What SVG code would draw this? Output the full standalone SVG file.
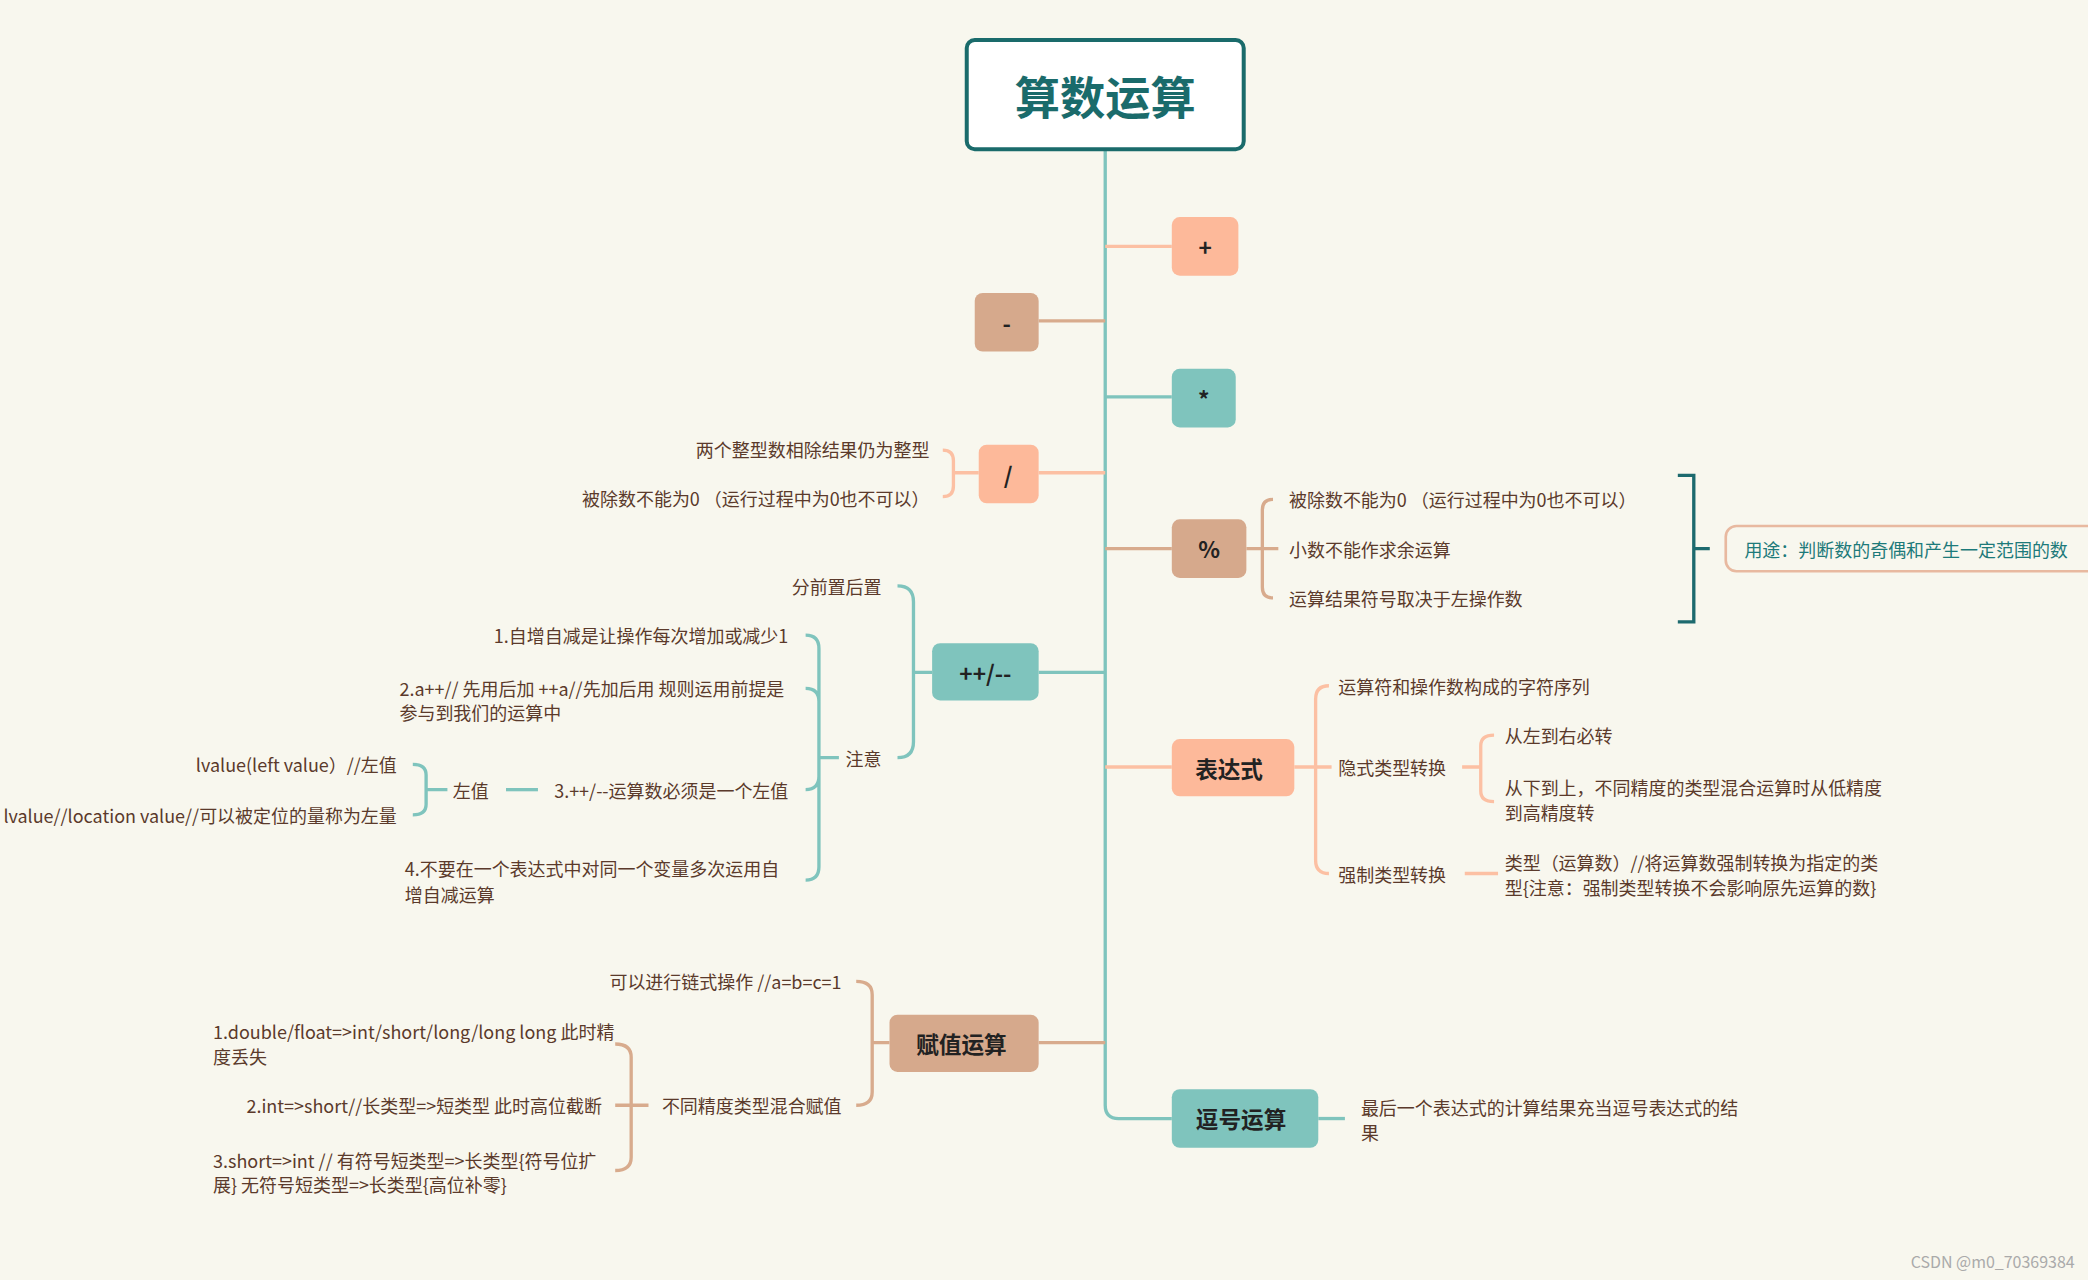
<svg xmlns="http://www.w3.org/2000/svg" width="2088" height="1280" viewBox="0 0 2088 1280">
<style>
text{font-family:"Noto Sans CJK SC","Noto Sans",sans-serif;dominant-baseline:central}
.t{font-size:13.5px;fill:#5b3a2b}
.n{font-size:17px;font-weight:bold;fill:#222;text-anchor:middle}
.r{text-anchor:end}
.lt{fill:none;stroke:#7fc4bd;stroke-width:2.5}
.lp{fill:none;stroke:#fcc0a3;stroke-width:2.5}
.lb{fill:none;stroke:#d8ab8d;stroke-width:2.5}
.teal{fill:#7fc4bd}.sal{fill:#fdb99a}.tan{fill:#d6a98c}
</style>
<rect width="2088" height="1280" fill="#f8f7ee"/>
<g transform="scale(1.3316)">
<g id="connectors">
<path class="lt" d="M830 112 V830 Q830 840 840 840 H880"/>
<path class="lp" d="M830 185 H880"/>
<path class="lb" d="M780 241 H830"/>
<path class="lt" d="M830 298 H880"/>
<path class="lp" d="M780 355 H830"/>
<path class="lb" d="M830 412 H880"/>
<path class="lt" d="M780 505 H830"/>
<path class="lp" d="M830 576 H880"/>
<path class="lb" d="M780 783 H830"/>
<path class="lp" d="M735 355 H716 M708 338 Q716 338 716 346 V365 Q716 373 708 373"/>
<path class="lb" d="M936 412 H948 M956 375 Q948 375 948 383 V441 Q948 449 956 449 M948 412 H960"/>
<path fill="none" stroke="#1d6a6e" stroke-width="2.5" d="M1260 357 H1272 V467 H1260 M1272 412 H1284"/>
<path class="lt" d="M700 505 H686 M674 440 Q686 440 686 452 V557 Q686 569 674 569"/>
<path class="lt" d="M630 569 H615 M605 477 Q615 477 615 487 V651 Q615 661 605 661 M605 517 Q615 517 615 527 M605 593 Q615 593 615 583"/>
<path class="lt" d="M380 593 H404"/>
<path class="lt" d="M336 593 H320 M310 574 Q320 574 320 582 V604 Q320 612 310 612"/>
<path class="lp" d="M972 576 H1000 M998 515 Q988 515 988 525 V646 Q988 656 998 656"/>
<path class="lp" d="M1098 576 H1112 M1122 552 Q1112 552 1112 560 V594 Q1112 602 1122 602"/>
<path class="lp" d="M1100 656 H1125"/>
<path class="lb" d="M668 783 H655 M643 737 Q655 737 655 747 V820 Q655 830 643 830"/>
<path class="lb" d="M487 830 H474 M462 784 Q474 784 474 794 V869 Q474 879 462 879 M462 830 H474"/>
<path class="lt" d="M990 840 H1010"/>
</g>
<g id="title"><rect x="726" y="30" width="208" height="82" rx="6" fill="#fff" stroke="#1a6b6b" stroke-width="3"/><text x="830" y="71" style="font-size:34px;font-weight:bold;fill:#1a6b6b;text-anchor:middle">算数运算</text></g>
<g id="plus"><rect class="sal" x="880" y="163" width="50" height="44" rx="6"/><text class="n" x="905" y="185">+</text></g>
<g id="minus"><rect class="tan" x="732" y="220" width="48" height="44" rx="6"/><text class="n" x="756" y="242">-</text></g>
<g id="mul"><rect class="teal" x="880" y="277" width="48" height="44" rx="6"/><text class="n" x="904" y="299">*</text></g>
<g id="div"><rect class="sal" x="735" y="334" width="45" height="44" rx="6"/><text class="n" x="757" y="356">/</text>
<text class="t r" x="698" y="337">两个整型数相除结果仍为整型</text>
<text class="t r" x="698" y="374">被除数不能为0 （运行过程中为0也不可以）</text></g>
<g id="mod"><rect class="tan" x="880" y="390" width="56" height="44" rx="6"/><text class="n" x="908" y="412">%</text>
<text class="t" x="968" y="375">被除数不能为0 （运行过程中为0也不可以）</text>
<text class="t" x="968" y="412">小数不能作求余运算</text>
<text class="t" x="968" y="449">运算结果符号取决于左操作数</text></g>
<g id="use"><rect x="1296" y="395" width="290" height="34" rx="8" fill="none" stroke="#e8b9a0" stroke-width="2"/><text class="t" x="1310" y="412" style="fill:#1d7a7a">用途：判断数的奇偶和产生一定范围的数</text></g>
<g id="incdec"><rect class="teal" x="700" y="483" width="80" height="43" rx="6"/><text class="n" x="740" y="505">++/--</text>
<text class="t r" x="662" y="440">分前置后置</text>
<text class="t r" x="662" y="569">注意</text>
<text class="t r" x="592" y="477">1.自增自减是让操作每次增加或减少1</text>
<text class="t" x="300" y="517">2.a++// 先用后加 ++a//先加后用 规则运用前提是</text>
<text class="t" x="300" y="535">参与到我们的运算中</text>
<text class="t r" x="592" y="593">3.++/--运算数必须是一个左值</text>
<text class="t" x="340" y="593">左值</text>
<text class="t r" x="298" y="574">lvalue(left value）//左值</text>
<text class="t r" x="298" y="612">lvalue//location value//可以被定位的量称为左量</text>
<text class="t" x="304" y="652">4.不要在一个表达式中对同一个变量多次运用自</text>
<text class="t" x="304" y="671">增自减运算</text></g>
<g id="expr"><rect class="sal" x="880" y="555" width="92" height="43" rx="6"/><text class="n" x="923" y="577">表达式</text>
<text class="t" x="1005" y="515">运算符和操作数构成的字符序列</text>
<text class="t" x="1005" y="576">隐式类型转换</text>
<text class="t" x="1005" y="656">强制类型转换</text>
<text class="t" x="1130" y="552">从左到右必转</text>
<text class="t" x="1130" y="591">从下到上，不同精度的类型混合运算时从低精度</text>
<text class="t" x="1130" y="610">到高精度转</text>
<text class="t" x="1130" y="647">类型（运算数）//将运算数强制转换为指定的类</text>
<text class="t" x="1130" y="666">型{注意：强制类型转换不会影响原先运算的数}</text></g>
<g id="assign"><rect class="tan" x="668" y="762" width="112" height="43" rx="6"/><text class="n" x="722" y="784">赋值运算</text>
<text class="t r" x="632" y="737">可以进行链式操作 //a=b=c=1</text>
<text class="t r" x="632" y="830">不同精度类型混合赋值</text>
<text class="t" x="160" y="774">1.double/float=&gt;int/short/long/long long 此时精</text>
<text class="t" x="160" y="793">度丢失</text>
<text class="t r" x="452" y="830">2.int=&gt;short//长类型=&gt;短类型 此时高位截断</text>
<text class="t" x="160" y="871">3.short=&gt;int // 有符号短类型=&gt;长类型{符号位扩</text>
<text class="t" x="160" y="889">展}  无符号短类型=&gt;长类型{高位补零}</text></g>
<g id="comma"><rect class="teal" x="880" y="818" width="110" height="44" rx="6"/><text class="n" x="932" y="840">逗号运算</text>
<text class="t" x="1022" y="831">最后一个表达式的计算结果充当逗号表达式的结</text>
<text class="t" x="1022" y="850">果</text></g>
<text x="1558" y="947" style="font-size:12px;fill:#aaa;text-anchor:end">CSDN @m0_70369384</text>
</g>
</svg>
